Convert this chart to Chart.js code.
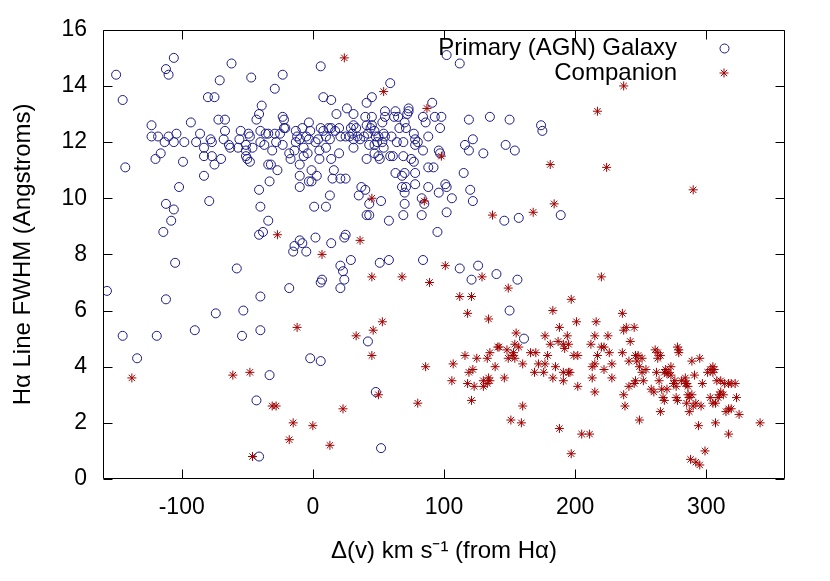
<!DOCTYPE html>
<html>
<head>
<meta charset="utf-8">
<script src="https://cdn.jsdelivr.net/npm/chart.js@4.4.1/dist/chart.umd.min.js"></script>
<style>
  body { margin: 0; background: #fff; }
  #wrap { width: 830px; height: 581px; }
</style>
</head>
<body>
<div id="wrap"><canvas id="fwhmChart" width="830" height="581"></canvas></div>
<script>
// ======================
// Series: Primary (AGN) Galaxy  [velocity km/s, FWHM Angstroms]
// ======================
const primaryX = [
  -150, -145, -143, -106, -112, -110, -62, -47, -23, -71, -29, -80, -75, 6, 8, 14, -39, -41, -43, -23,
  -22, -22, -67, -72, -93, -123, -123, -118, -110, -104, -113, -106, -98, -86, -89, -78, -77, -67, -68, -64,
  -63, -57, -55, -56, -49, -48, -51, -46, -40, -40, -37, -36, -34, -29, -28, -25, -23, -21, -51, -51,
  -50, -48, -34, -32, -27, -31, -83, -83, -77, -70, -75, -99, -116, -120, -83, -33, -18, -17, -13, -12,
  -8, -3, -2, -5, -3, -10, -13, -14, -7, -4, -7, -10, -1, 3, -10, -3, 5, 2, 4, 6,
  8, 10, 12, 14, 10, 5, 14, 13,
  102, 112, 59, 45, 41, 91, 18, 26, 31, 55, 55, 63, 62, 65, 73, 73, 72, 84, 86, 93,
  98, 97, 88, 119, 135, 150, 174, 175, 122, 116, 119, 130, 147, 154, 115, 92, 88, 96, 97, 84,
  78, 77, 75, 69, 70, 68, 63, 61, 59, 41, 51, 50, 47, 54, 31, 20, 16,
  20, 17, 21, 25, 29, 31, 33, 34, 36, 40, 45, 41, 42, 44, 45, 47, 48, 50, 49, 53,
  54, 53, 55, 60, 64, 66, 69, 70, 71, 77, 78, 78, 80, 43, 47, 31, 39, 30, 28,
  -102, -112, -106, -108, -114, -79, -41, -40, -34, -38, -41, -10, -1, 1, 10, 13, 2, -10, -8, -14,
  -15, -5, 14, -105, -58, -157, -112, -40, -74, -53, -18, 7, 6, -90, -40,
  15, 21, 25, 37, 40, 35, 43, 52, 41, 43, 58, 68, 71, 78, 88, 70, 70, 69, 83, 83,
  85, 96, 101, 102, 106, 102, 120, 122, 95, 146, 157, 189, 24, 25, 29, 21, 23, 24, 21, 51,
  58, 84, 112, 126, 121, 140, 156, 150,
  -145, -119, -134, -54, -2, 6, -33, -43, -41,
  42, 161, 48, 52
];
const primaryY = [
  14.4, 13.5, 11.1, 15.0, 14.6, 14.4, 14.8, 14.3, 14.4, 14.2, 13.9, 13.6, 13.6, 14.7, 13.6, 13.5, 13.3, 13.0, 12.8, 12.9,
  12.8, 12.5, 12.8, 12.8, 12.7, 12.6, 12.2, 12.2, 12.2, 12.3, 12.0, 12.0, 12.0, 12.3, 12.0, 12.1, 12.0, 12.4, 12.1, 11.9,
  11.8, 11.8, 12.4, 12.1, 12.3, 12.2, 11.9, 11.8, 12.4, 12.0, 11.9, 12.3, 12.3, 12.3, 12.0, 12.3, 11.9, 12.5, 11.7, 11.5,
  11.4, 11.3, 11.2, 11.2, 11.0, 11.7, 11.8, 11.5, 11.5, 11.4, 11.2, 11.3, 11.6, 11.4, 10.8, 10.6, 11.6, 11.4, 12.4, 12.2,
  12.5, 12.7, 12.4, 12.2, 12.1, 12.1, 12.0, 11.7, 11.8, 11.6, 11.5, 11.2, 11.0, 10.8, 10.8, 10.6, 11.7, 12.0, 12.1, 12.5,
  12.4, 12.2, 12.5, 12.5, 11.8, 11.4, 11.4, 12.1,
  15.1, 14.8, 14.1, 13.6, 13.4, 13.4, 13.0, 13.2, 13.0, 13.1, 12.9, 13.1, 12.9, 12.9, 13.2, 13.1, 13.0, 12.9, 12.7, 12.9,
  12.9, 12.5, 12.2, 12.8, 12.9, 12.8, 12.6, 12.4, 12.1, 11.9, 11.7, 11.6, 11.9, 11.7, 10.9, 11.1, 11.1, 11.7, 11.6, 11.7,
  10.9, 11.3, 11.4, 11.5, 10.9, 10.8, 10.9, 11.5, 11.5, 11.4, 11.4, 11.5, 11.6, 11.8, 11.8, 11.6, 11.0,
  12.5, 12.4, 12.2, 12.2, 12.5, 12.6, 12.5, 12.2, 12.1, 12.9, 12.9, 12.6, 12.3, 12.5, 12.6, 12.4, 12.2, 12.2, 12.0, 12.0,
  12.3, 12.7, 12.2, 12.2, 12.0, 12.5, 12.0, 12.7, 12.5, 12.3, 12.1, 11.9, 12.0, 11.9, 11.9, 12.1, 12.2, 12.3, 12.2,
  10.4, 9.8, 9.6, 9.2, 8.8, 9.9, 10.3, 9.7, 9.2, 8.8, 8.7, 10.4, 10.6, 9.7, 9.7, 10.1, 8.6, 8.5, 8.4, 8.3,
  8.1, 8.1, 8.4, 7.7, 7.5, 6.7, 6.4, 6.5, 5.9, 6.0, 6.8, 7.1, 7.0, 5.3, 5.3,
  10.7, 10.7, 10.7, 10.4, 10.3, 10.1, 9.8, 9.9, 9.4, 9.4, 9.2, 10.4, 10.4, 10.5, 10.4, 10.2, 9.8, 9.4, 9.4, 10.0,
  9.8, 10.2, 10.5, 10.4, 10.0, 9.5, 10.3, 9.9, 8.8, 9.2, 9.3, 9.4, 8.6, 8.7, 7.8, 7.6, 7.4, 7.1, 6.8, 7.7,
  7.8, 7.8, 7.5, 7.6, 7.1, 7.3, 7.1, 6.0,
  5.1, 5.1, 4.3, 5.1, 4.3, 4.2, 3.7, 2.8, 0.8,
  4.9, 5.0, 3.1, 1.1
];

// ======================
// Series: Companion
// ======================
const companionX = [
  24, 54, 87, 98, 181, 237, 217, 224, -27, 7, -12,
  45, 85, 36, 137, 168, 184, 101, 68, 45, 89, 129, 149, 112, 121, 118, 134, 53, 46, 183, 188,
  290, 220, 197, 236, 201, 216, 239, 245, 237,
  -138, -61, -48, -31, -28, -15, 0, -18, 13, -46,
  33, 45, 86, 50, 23, 80,
  107, 116, 125, 106, 119, 122, 118, 123, 121,
  130, 134, 135, 133, 130, 133, 135, 139, 141, 142,
  148, 149, 153, 152, 154, 154, 157, 146, 160, 155, 177, 181, 187, 166, 170, 179, 172, 177, 169, 176,
  185, 183, 160, 151, 159, 188,
  194, 215, 225, 212, 220, 222, 226, 242, 236, 191, 195, 192, 199, 202, 217, 215, 213, 222, 228, 246,
  248, 251, 247, 241, 249, 254, 251, 252, 246, 245, 241, 237, 238, 249, 228, 215, 213, 202, 191, 195,
  196, 191, 205, 211, 197,
  261, 263, 265, 263, 278, 279, 279, 262, 264, 258, 260, 266, 270, 269, 271, 270, 268, 273, 273, 276,
  275, 267, 268, 265, 277, 278, 277, 281, 284, 285, 286, 284, 286, 289, 287, 285, 290, 292, 296, 287,
  291, 297, 289, 295, 301, 303, 305, 306, 305, 308, 311, 314, 317, 319, 322, 311, 313, 310, 309, 303,
  305, 307, 323, 315, 317, 319, 325, 341, 307, 294, 317, 299, 288, 292, 295
];
const companionY = [
  15.0, 13.8, 13.2, 11.5, 11.2, 14.0, 13.1, 11.1, 8.7, 8.0, 5.4,
  10.0, 9.9, 8.5, 9.4, 9.5, 9.8, 7.6, 7.2, 7.2, 7.0, 7.2, 6.8, 6.5, 6.5, 5.9, 5.7, 5.6, 5.3, 6.0, 5.4,
  10.3, 7.2, 6.4, 5.9, 5.6, 5.6, 5.4, 5.4, 5.3,
  3.6, 3.7, 3.8, 2.6, 2.6, 2.0, 1.9, 1.4, 1.2, 0.8,
  5.1, 4.4, 4.0, 3.0, 2.5, 2.7,
  4.1, 4.4, 4.3, 3.5, 3.8, 3.9, 3.4, 3.3, 2.8,
  3.5, 3.6, 3.5, 3.4, 3.3, 4.3, 4.5, 4.0, 4.7, 4.7,
  4.6, 4.3, 4.5, 4.4, 4.3, 4.8, 4.7, 3.6, 4.1, 5.2, 5.1, 4.8, 4.9, 4.5, 4.5, 4.4, 4.1, 4.1, 3.8, 3.8,
  4.0, 3.6, 2.6, 2.1, 2.0, 1.8,
  5.1, 5.1, 5.1, 4.8, 4.7, 4.7, 4.5, 4.9, 4.5, 4.8, 4.8, 4.65, 4.4, 4.4, 4.4, 4.1, 4.0, 3.9, 4.1, 4.4,
  4.4, 4.3, 4.2, 4.2, 4.0, 3.9, 3.8, 3.5, 3.5, 3.4, 3.3, 3.0, 2.6, 2.1, 3.6, 3.1, 3.6, 3.3, 3.8, 3.8,
  3.8, 3.5, 1.6, 1.6, 0.9,
  4.6, 4.5, 4.4, 4.3, 4.7, 4.6, 4.5, 3.8, 3.5, 3.2, 3.1, 3.2, 3.2, 3.9, 3.8, 3.75, 3.8, 4.0, 3.7, 3.5,
  3.4, 2.9, 2.8, 2.4, 2.9, 2.8, 3.3, 3.5, 3.4, 3.4, 3.3, 3.6, 3.0, 3.0, 2.9, 2.7, 2.6, 2.7, 2.6, 2.4,
  3.7, 3.4, 4.2, 4.3, 3.8, 3.9, 4.0, 3.9, 3.8, 3.5, 3.5, 3.4, 3.4, 3.4, 3.4, 3.1, 3.0, 3.0, 2.9, 2.9,
  2.7, 2.7, 2.9, 2.4, 2.5, 2.5, 2.3, 2.0, 2.0, 1.9, 1.6, 1.0, 0.7, 0.6, 0.5
];

// ======================
// Axes
// ======================
const xTicks = [-100, 0, 100, 200, 300];
const yTicks = [0, 2, 4, 6, 8, 10, 12, 14, 16];
const xRange = [-160, 360];
const yRange = [0, 16];

const labelPrimary = "Primary (AGN) Galaxy";
const labelCompanion = "Companion";
const xTitle = "\u0394(v) km s\u207B\u00B9 (from H\u03B1)";
const yTitle = "H\u03B1 Line FWHM (Angstroms)";

const BLUE = "#1a1a88";
const RED = "#a00000";
const FONT = "'Liberation Sans', Arial, sans-serif";

function pares(xs, ys) {
  return xs.map((x, i) => ({ x: x, y: ys[i] }));
}

function circulo(ctx, x, y, r) {
  ctx.save();
  ctx.strokeStyle = BLUE;
  ctx.lineWidth = 1;
  ctx.beginPath();
  ctx.arc(x, y, r, 0, Math.PI * 2);
  ctx.stroke();
  ctx.restore();
}

function asterisco(ctx, x, y, r) {
  ctx.save();
  ctx.strokeStyle = RED;
  ctx.lineWidth = 1;
  ctx.beginPath();
  for (let k = 0; k < 4; k++) {
    const a = k * Math.PI / 4;
    ctx.moveTo(x - r * Math.cos(a), y - r * Math.sin(a));
    ctx.lineTo(x + r * Math.cos(a), y + r * Math.sin(a));
  }
  ctx.stroke();
  ctx.restore();
}

// moldura + ticks para dentro + legenda estilo gnuplot
const gnuplotFrame = {
  id: "gnuplotFrame",
  afterDraw(chart) {
    const ctx = chart.ctx;
    const a = chart.chartArea;
    const sx = chart.scales.x, sy = chart.scales.y;
    const L = Math.round(a.left) + 0.5, R = Math.round(a.right) - 0.5;
    const T = Math.round(a.top) + 0.5, B = Math.round(a.bottom) - 0.5;
    ctx.save();
    ctx.strokeStyle = "#000";
    ctx.lineWidth = 1;
    ctx.beginPath();
    ctx.rect(L, T, R - L, B - T);
    const tk = 9;
    xTicks.forEach(v => {
      const px = Math.round(sx.getPixelForValue(v)) + 0.5;
      ctx.moveTo(px, B); ctx.lineTo(px, B - tk);
      ctx.moveTo(px, T); ctx.lineTo(px, T + tk);
    });
    yTicks.forEach(v => {
      const py = Math.round(sy.getPixelForValue(v)) + 0.5;
      ctx.moveTo(L, py); ctx.lineTo(L + tk, py);
      ctx.moveTo(R, py); ctx.lineTo(R - tk, py);
    });
    ctx.stroke();

    // legenda
    ctx.fillStyle = "#000";
    ctx.font = "24px " + FONT;
    ctx.textAlign = "right";
    ctx.textBaseline = "middle";
    ctx.fillText(labelPrimary, 677, 48);
    ctx.fillText(labelCompanion, 677, 73);
    circulo(ctx, 724.5, 48.5, 4.5);
    asterisco(ctx, 724, 73, 4.5);
    ctx.restore();
  }
};

function carregarGrafico() {
  const ctx = document.getElementById("fwhmChart").getContext("2d");
  new Chart(ctx, {
    type: "scatter",
    data: {
      datasets: [
        {
          label: labelPrimary,
          data: pares(primaryX, primaryY),
          pointStyle: "circle",
          pointRadius: 4.5,
          borderColor: BLUE,
          backgroundColor: "rgba(0,0,0,0)",
          borderWidth: 1,
          order: 1
        },
        {
          label: labelCompanion,
          data: pares(companionX, companionY),
          pointStyle: "star",
          pointRadius: 4.5,
          borderColor: RED,
          backgroundColor: RED,
          borderWidth: 1,
          order: 0
        }
      ]
    },
    options: {
      responsive: false,
      animation: false,
      events: [],
      layout: { padding: { top: 29, right: 45, left: 0, bottom: 0 } },
      plugins: {
        legend: { display: false },
        tooltip: { enabled: false }
      },
      scales: {
        x: {
          type: "linear",
          min: xRange[0],
          max: xRange[1],
          afterBuildTicks: s => { s.ticks = xTicks.map(v => ({ value: v })); },
          afterFit: s => { s.height = 102; },
          grid: { display: false, drawTicks: false },
          border: { display: false },
          ticks: { color: "#000", font: { family: FONT, size: 23 }, padding: 15, maxRotation: 0 },
          title: { display: true, text: xTitle, color: "#000", font: { family: FONT, size: 24 }, padding: { bottom: 15 } }
        },
        y: {
          type: "linear",
          min: yRange[0],
          max: yRange[1],
          afterBuildTicks: s => { s.ticks = yTicks.map(v => ({ value: v })); },
          afterFit: s => { s.width = 103; },
          grid: { display: false, drawTicks: false },
          border: { display: false },
          ticks: { color: "#000", font: { family: FONT, size: 23 }, padding: 16 },
          title: { display: true, text: yTitle, color: "#000", font: { family: FONT, size: 24 }, padding: { top: 9 } }
        }
      }
    },
    plugins: [gnuplotFrame]
  });
}

document.addEventListener("DOMContentLoaded", carregarGrafico);
</script>
</body>
</html>
